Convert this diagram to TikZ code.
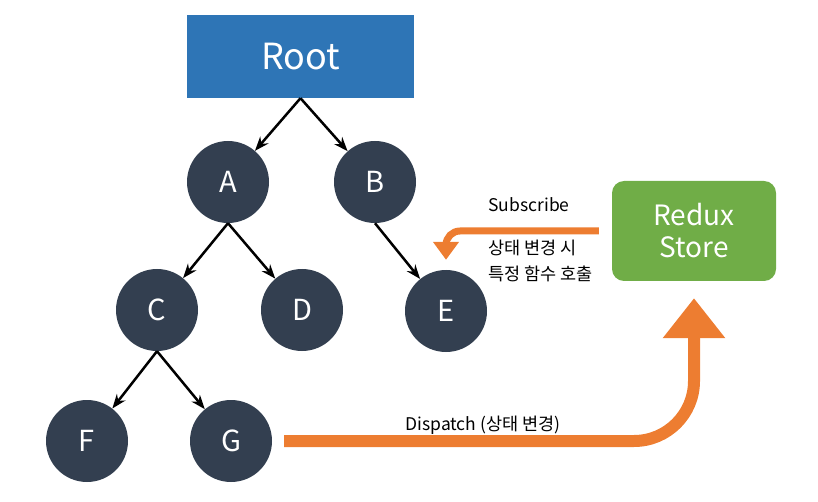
\documentclass[tikz,border=0pt]{standalone}
\usepackage{fontspec}
\setmainfont{Noto Sans CJK KR}
\usetikzlibrary{arrows.meta}
\definecolor{rootblue}{RGB}{46,117,182}
\definecolor{nodegray}{RGB}{51,63,80}
\definecolor{storegreen}{RGB}{112,173,71}
\definecolor{flow}{RGB}{237,125,49}

\begin{document}
\begin{tikzpicture}[x=1pt, y=-1pt, >=Stealth,
  vertex/.style={circle, fill=nodegray, text=white, minimum size=82pt,
  inner sep=0pt, font=\fontsize{29}{29}\selectfont},
  edge/.style={->, line width=2.5pt},
  flowline/.style={draw=flow, line width=#1},
  note/.style={font=\fontsize{17.5}{26}\selectfont, inner sep=0pt}]
  \useasboundingbox (0,0) rectangle (818,502);
  \node[fill=rootblue, text=white, minimum width=227pt, minimum height=83pt,
    font=\fontsize{36}{36}\selectfont] (root) at (300.5,56.5) {Root};
  \foreach \name/\x/\y in {A/228/182, B/375/182, C/157/310, D/302/310,
    E/446/311, F/87/441, G/231/441}
    \node[vertex] (\name) at (\x,\y) {\name};
  \draw[edge] (root.south)--(A);
  \draw[edge] (root.south)--(B);
  \draw[edge] (A.south)--(C); \draw[edge] (A.south)--(D);
  \draw[edge] (B.south)--(E);
  \draw[edge] (C.south)--(F); \draw[edge] (C.south)--(G);
  \node[fill=storegreen, rounded corners=12pt, minimum width=164pt,
    minimum height=100pt, text=white, align=center,
    font=\fontsize{28}{32}\selectfont] (store) at (694,231) {Redux\\Store};
  % store -> E
  \draw[flowline=7pt, -{Triangle[width=25pt,length=18pt]}, rounded corners=14pt]
    ([xshift=-13pt]store.west) -| ([yshift=10pt]E.north);
  \node[note] (sub) at (529,205) {Subscribe};
  \node[note, anchor=west, align=left] (call) at (488,261)
    {상태 변경 시\\특정 함수 호출};
  % G -> store
  \draw[flowline=12pt, -{Triangle[width=60pt,length=40pt]}, rounded corners=60pt]
    ([xshift=12pt]G.east) -| ([yshift=-17pt]store.south);
  \node[note] (disp) at (483,425) {Dispatch (상태 변경)};
\end{tikzpicture}
\end{document}
